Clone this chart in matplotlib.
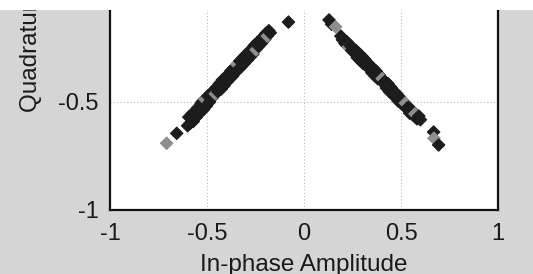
import matplotlib
matplotlib.use("Agg")
import matplotlib.pyplot as plt
from matplotlib.patches import Rectangle

plt.rcParams['font.family'] = ['Liberation Sans', 'DejaVu Sans']

# ---- data ----
left_i = [-0.708, -0.656, -0.600, -0.594, -0.586, -0.577, -0.571, -0.562, -0.555, -0.549,
          -0.541, -0.532, -0.526, -0.518, -0.509, -0.503, -0.496, -0.487, -0.481, -0.473,
          -0.466, -0.457, -0.451, -0.444, -0.436, -0.427, -0.421, -0.413, -0.404, -0.398,
          -0.391, -0.382, -0.376, -0.368, -0.359, -0.353, -0.346, -0.337, -0.331, -0.323,
          -0.314, -0.309, -0.301, -0.292, -0.286, -0.279, -0.269, -0.263, -0.256, -0.247,
          -0.241, -0.234, -0.224, -0.219, -0.211, -0.202, -0.196, -0.189, -0.181, -0.174,
          -0.080]
left_q = [-0.691, -0.645, -0.610, -0.570, -0.598, -0.555, -0.590, -0.545, -0.570, -0.528,
          -0.555, -0.510, -0.500, -0.535, -0.488, -0.518, -0.472, -0.500, -0.460, -0.480,
          -0.448, -0.462, -0.432, -0.452, -0.415, -0.440, -0.398, -0.425, -0.385, -0.408,
          -0.372, -0.392, -0.355, -0.380, -0.340, -0.362, -0.325, -0.348, -0.310, -0.336,
          -0.295, -0.322, -0.282, -0.306, -0.268, -0.292, -0.255, -0.278, -0.238, -0.258,
          -0.225, -0.242, -0.212, -0.228, -0.198, -0.210, -0.182, -0.195, -0.170, -0.180,
          -0.130]
left_tone = [1, 0, 0, 0, 0, 0, 0, 0, 0, 0,
             0, 0, 0, 0, 1, 0, 0, 0, 0, 0,
             0, 1, 0, 0, 0, 0, 0, 0, 0, 0,
             0, 0, 0, 0, 0, 0, 1, 0, 0, 0,
             0, 0, 0, 0, 0, 0, 0, 0, 0, 1,
             0, 0, 0, 0, 0, 0, 0, 1, 0, 0,
             0]

right_i = [0.129, 0.142, 0.163, 0.190, 0.198, 0.212, 0.222, 0.230, 0.238, 0.246,
           0.252, 0.260, 0.268, 0.275, 0.283, 0.290, 0.298, 0.305, 0.313, 0.320,
           0.328, 0.335, 0.343, 0.350, 0.358, 0.365, 0.373, 0.380, 0.388, 0.395,
           0.403, 0.410, 0.418, 0.425, 0.433, 0.440, 0.448, 0.455, 0.463, 0.470,
           0.478, 0.485, 0.493, 0.500, 0.508, 0.515, 0.523, 0.530, 0.538, 0.545,
           0.553, 0.562, 0.572, 0.582, 0.592, 0.600, 0.668, 0.670, 0.694]
right_q = [-0.120, -0.140, -0.152, -0.195, -0.212, -0.230, -0.222, -0.245, -0.238, -0.262,
           -0.250, -0.272, -0.262, -0.295, -0.275, -0.308, -0.288, -0.322, -0.302, -0.330,
           -0.318, -0.345, -0.335, -0.365, -0.345, -0.378, -0.358, -0.392, -0.375, -0.400,
           -0.392, -0.412, -0.405, -0.435, -0.415, -0.452, -0.432, -0.462, -0.450, -0.478,
           -0.462, -0.495, -0.478, -0.505, -0.495, -0.518, -0.505, -0.530, -0.525, -0.552,
           -0.535, -0.560, -0.555, -0.578, -0.565, -0.582, -0.639, -0.668, -0.699]
right_tone = [0, 0, 1, 0, 0, 0, 0, 1, 0, 0,
              0, 0, 0, 0, 0, 0, 0, 0, 0, 0,
              0, 0, 0, 0, 0, 0, 0, 0, 0, 0,
              1, 0, 0, 0, 0, 0, 0, 0, 0, 0,
              0, 0, 0, 0, 0, 0, 1, 0, 0, 0,
              0, 0, 1, 0, 0, 0, 0, 1, 0]

x_ticks = [-1, -0.5, 0, 0.5, 1]
x_tick_labels = ['-1', '-0.5', '0', '0.5', '1']
y_ticks = [-1, -0.5, 0, 0.5, 1]
y_tick_labels = ['-1', '-0.5', '0', '0.5', '1']
x_label = 'In-phase Amplitude'
y_label = 'Quadrature Amplitude'

# ---- figure ----
W, H = 533, 274
fig = plt.figure(figsize=(W / 100, H / 100), dpi=100, facecolor='#d5d5d5')
ax = fig.add_axes([110 / W, 64 / H, 388 / W, 432 / H])
ax.set_facecolor('white')
ax.set_xlim(-1, 1)
ax.set_ylim(-1, 1)

grid_kw = dict(color='#b8b8b8', linestyle=(0, (1, 2)), linewidth=0.8, zorder=0)
for gx in x_ticks[1:-1]:
    ax.axvline(gx, **grid_kw)
for gy in y_ticks[1:-1]:
    ax.axhline(gy, **grid_kw)

tone_col = {0: '#1c1c1c', 1: '#8e8e8e'}
for ii, qq, tt in ((left_i, left_q, left_tone), (right_i, right_q, right_tone)):
    cols = [tone_col[t] for t in tt]
    ax.scatter(ii, qq, marker='D', s=40, c=cols, edgecolors=cols,
               linewidths=0.8, zorder=3)

ax.set_xticks(x_ticks)
ax.set_xticklabels(x_tick_labels)
ax.set_yticks(y_ticks)
ax.set_yticklabels(y_tick_labels)
ax.tick_params(axis='both', length=0, labelsize=17, colors='#1a1a1a')
ax.tick_params(axis='x', pad=9)
ax.tick_params(axis='y', pad=8)
for sp in ax.spines.values():
    sp.set_linewidth(1.6)
    sp.set_color('#111111')

ax.set_xlabel(x_label, fontsize=17.5, color='#1a1a1a', labelpad=7)
ax.set_ylabel(y_label, fontsize=17.5, color='#1a1a1a', labelpad=12)

# white scan margin along the top edge
fig.patches.append(Rectangle((0, 1 - 10 / H), 1, 10 / H, transform=fig.transFigure,
                             facecolor='white', edgecolor='none', zorder=10))

fig.savefig('out.png', dpi=100, facecolor=fig.get_facecolor())
